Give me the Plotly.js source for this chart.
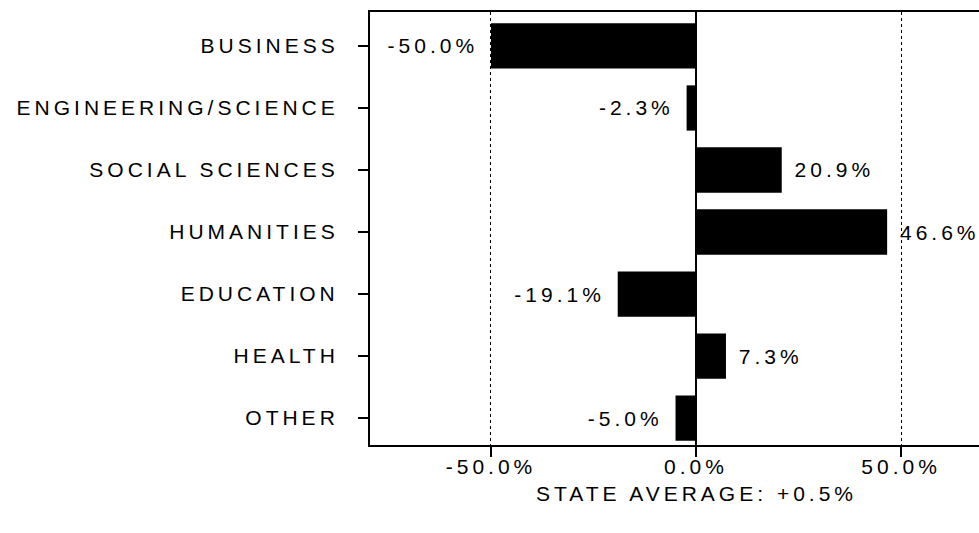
<!DOCTYPE html>
<html>
<head>
<meta charset="utf-8">
<script src="https://cdn.plot.ly/plotly-3.0.1.min.js"></script>
<style>
  html, body { margin: 0; padding: 0; background: #fff; }
  #chart { width: 979px; height: 533px; }
  svg text { letter-spacing: 4px; }
</style>
</head>
<body>
<div id="chart"></div>
<script>
const categories = ["BUSINESS", "ENGINEERING/SCIENCE", "SOCIAL SCIENCES", "HUMANITIES", "EDUCATION", "HEALTH", "OTHER"];
const values = [-50.0, -2.3, 20.9, 46.6, -19.1, 7.3, -5.0];
const xTickVals = [-50, 0, 50];
const xTickText = ["-50.0%", "0.0%", "50.0%"];
const xTitle = "STATE AVERAGE: +0.5%";

const font = "Liberation Sans, Arial, Helvetica, sans-serif";
const NB = "\u00a0";

const trace = {
  type: "bar",
  orientation: "h",
  y: categories,
  x: values,
  marker: { color: "#000", line: { width: 0 } },
  width: 0.73,
  text: values.map(v => v < 0 ? v.toFixed(1) + "%" + NB : NB + v.toFixed(1) + "%"),
  textposition: "outside",
  constraintext: "none",
  cliponaxis: false,
  textfont: { family: font, size: 21, color: "#000" },
  hoverinfo: "none"
};

const layout = {
  width: 979,
  height: 533,
  margin: { l: 370, r: 0, t: 12, b: 88 },
  paper_bgcolor: "#fff",
  plot_bgcolor: "#fff",
  showlegend: false,
  font: { family: font, size: 21, color: "#000" },
  xaxis: {
    range: [-79.5, 69],
    tickvals: xTickVals,
    ticktext: xTickText,
    ticks: "",
    ticklabelstandoff: 2,
    minor: { ticks: "outside", ticklen: 10, tickwidth: 1.5, tickcolor: "#000", tick0: 0, dtick: 50, showgrid: false },
    showgrid: true,
    gridcolor: "#000",
    gridwidth: 1,
    griddash: "dot",
    zeroline: true,
    zerolinecolor: "#000",
    zerolinewidth: 2,
    showline: true,
    linecolor: "#000",
    linewidth: 2,
    mirror: true,
    tickfont: { family: font, size: 21, color: "#000" },
    fixedrange: true
  },
  yaxis: {
    type: "category",
    categoryorder: "array",
    categoryarray: categories,
    range: [6.435, -0.548],
    ticks: "outside",
    ticklen: 10,
    tickwidth: 1.5,
    tickcolor: "#000",
    ticklabelstandoff: 15,
    showgrid: false,
    showline: true,
    linecolor: "#000",
    linewidth: 2,
    mirror: true,
    tickfont: { family: font, size: 21, color: "#000" },
    fixedrange: true
  },
  annotations: [{
    text: xTitle,
    xref: "x",
    yref: "paper",
    x: 0,
    y: -0.113,
    xanchor: "center",
    yanchor: "middle",
    showarrow: false,
    font: { family: font, size: 21, color: "#000" }
  }]
};

Plotly.newPlot("chart", [trace], layout, { displayModeBar: false, staticPlot: true });
</script>
</body>
</html>
